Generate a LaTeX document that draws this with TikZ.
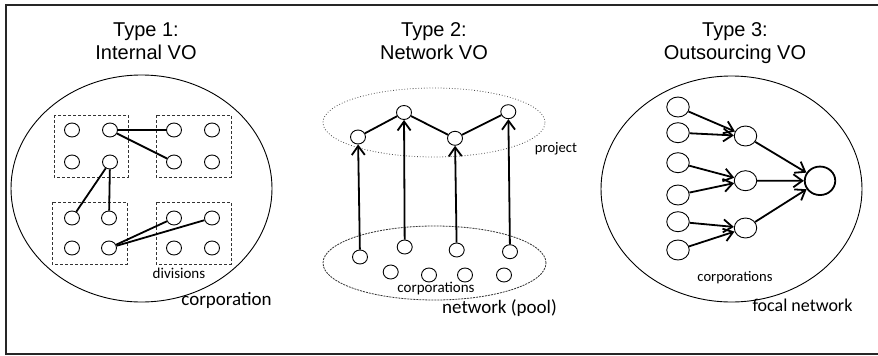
\documentclass[tikz,border=0pt]{standalone}
\usepackage{fontspec}
\setmainfont{Liberation Sans}
\newfontfamily\labfont{Carlito}
\usetikzlibrary{shapes.geometric,arrows.meta}
\begin{document}
\begin{tikzpicture}[x=1pt,y=-1pt,
  ttl/.style={anchor=base,inner sep=0pt,font=\fontsize{20}{24}\selectfont,text=black},
  lab/.style={anchor=base,inner sep=0pt,text=black},
  sc/.style={ellipse,draw,line width=0.9pt,minimum width=15pt,minimum height=14pt,inner sep=0pt},
  mc/.style={ellipse,draw,line width=0.9pt,minimum width=22.5pt,minimum height=20pt,inner sep=0pt},
  fc/.style={ellipse,draw,line width=1.8pt,minimum width=30.5pt,minimum height=28.5pt,inner sep=0pt},
  conn/.style={line width=1.8pt,black},
  arr/.style={line width=1.8pt,black,-{Straight Barb[length=9pt,width=13pt,line width=1.8pt]}},
  divbox/.style={draw=black!80,line width=0.8pt,dash pattern=on 3pt off 2pt},
  big/.style={draw,line width=0.9pt},
]
\useasboundingbox (0,0) rectangle (878,356);
% frame
\draw[line width=2pt,black!85] (878,5) -- (6,5) -- (6,354.3) -- (878,354.3);

% ===== Titles =====
\node[ttl] (t1a) at (146,36.5) {Type 1:};
\node[ttl] (t1b) at (146,59) {Internal VO};
\node[ttl] (t2a) at (434,36.5) {Type 2:};
\node[ttl] (t2b) at (434,59) {Network VO};
\node[ttl] (t3a) at (735,36.5) {Type 3:};
\node[ttl] (t3b) at (735,59) {Outsourcing VO};

% ===== Panel 1 =====
\draw[big] (141.5,188.5) ellipse [x radius=130.5pt, y radius=113.5pt];
\draw[divbox] (54,115) rectangle (128,177);
\draw[divbox] (156,115) rectangle (231,177);
\draw[divbox] (52,202) rectangle (127,264);
\draw[divbox] (156,202) rectangle (231,264);
\node[sc] (a11) at (72,130) {};
\node[sc] (a12) at (110,130) {};
\node[sc] (a21) at (72,162) {};
\node[sc] (a22) at (110,162) {};
\node[sc] (b11) at (174,130) {};
\node[sc] (b12) at (212,130) {};
\node[sc] (b21) at (174,162) {};
\node[sc] (b22) at (212,162) {};
\node[sc] (c11) at (72,218) {};
\node[sc] (c12) at (109,218) {};
\node[sc] (c21) at (72,248) {};
\node[sc] (c22) at (109,248) {};
\node[sc] (d11) at (174,218) {};
\node[sc] (d12) at (212,218) {};
\node[sc] (d21) at (174,248) {};
\node[sc] (d22) at (212,248) {};
\draw[conn] (a12) -- (b11);
\draw[conn] (a12) -- (b21);
\draw[conn] (a22) -- (c11);
\draw[conn] (a22) -- (c12);
\draw[conn] (c22) -- (d11);
\draw[conn] (c22) -- (d12);
\node[lab,font=\labfont\fontsize{15}{18}\selectfont] (ldiv) at (179,278.5) {divisions};
\node[lab,font=\labfont\fontsize{19}{22}\selectfont] (lcorp1) at (226.5,305) {corporation};

% ===== Panel 2 =====
\draw[line width=0.8pt,black!70,dotted] (434,122.5) ellipse [x radius=111pt, y radius=34.5pt];
\draw[line width=0.8pt,black!80,dash pattern=on 2pt off 1pt] (434.5,263) ellipse [x radius=111.5pt, y radius=37pt];
\node[sc] (p1) at (358,137) {};
\node[sc] (p2) at (404,112.5) {};
\node[sc] (p3) at (455,138.3) {};
\node[sc] (p4) at (508.3,111.7) {};
\draw[conn] (p1) -- (p2);
\draw[conn] (p2) -- (p3);
\draw[conn] (p3) -- (p4);
\node[sc] (q1) at (360,257) {};
\node[sc] (q2) at (404.7,247) {};
\node[sc] (q3) at (456.7,250) {};
\node[sc] (q4) at (510,251.7) {};
\node[sc] (r1) at (390.7,272) {};
\node[sc] (r2) at (429,275) {};
\node[sc] (r3) at (465,275) {};
\node[sc] (r4) at (504,275) {};
\draw[arr] (q1) -- (p1);
\draw[arr] (q2) -- (p2);
\draw[arr] (q3) -- (p3);
\draw[arr] (q4) -- (p4);
\node[lab,font=\labfont\fontsize{14.6}{18}\selectfont] (lproj) at (556,152) {project};
\node[lab,font=\labfont\fontsize{15}{18}\selectfont] (lcorp2) at (436,292) {corporations};
\node[lab,font=\labfont\fontsize{19}{22}\selectfont] (lpool) at (499.5,313) {network (pool)};

% ===== Panel 3 =====
\draw[big] (731.5,189) ellipse [x radius=130.5pt, y radius=113pt];
\node[mc] (l1) at (678,107) {};
\node[mc] (l2) at (678,132.7) {};
\node[mc] (l3) at (678,162.7) {};
\node[mc] (l4) at (678,195) {};
\node[mc] (l5) at (678,221.7) {};
\node[mc] (l6) at (678,250) {};
\node[mc] (m1) at (745.5,136) {};
\node[mc] (m2) at (745.5,180.7) {};
\node[mc] (m3) at (745.5,228) {};
\node[fc] (f) at (820,180.8) {};
\draw[arr] (l1) -- (m1);
\draw[arr] (l2) -- (m1);
\draw[arr] (l3) -- (m2);
\draw[arr] (l4) -- (m2);
\draw[arr] (l5) -- (m3);
\draw[arr] (l6) -- (m3);
\draw[arr] (m1) -- (f);
\draw[arr] (m2) -- (f);
\draw[arr] (m3) -- (f);
\node[lab,font=\labfont\fontsize{14.6}{18}\selectfont] (lcorp3) at (735,281.7) {corporations};
\node[lab,font=\labfont\fontsize{18}{22}\selectfont] (lfocal) at (802.5,311.7) {focal network};
\end{tikzpicture}
\end{document}
